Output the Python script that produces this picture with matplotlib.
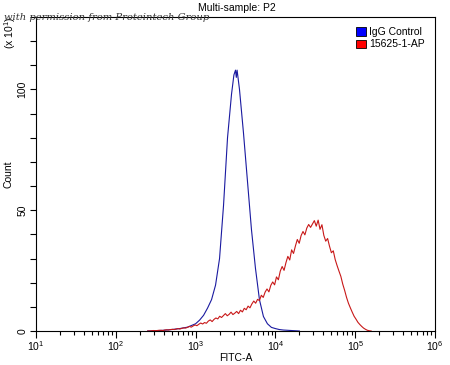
import matplotlib
matplotlib.use('Agg')
import matplotlib.pyplot as plt
import numpy as np
from matplotlib.ticker import LogLocator, MultipleLocator, FixedLocator

plt.rcParams['font.family'] = ['Liberation Sans', 'DejaVu Sans']
plt.rcParams['mathtext.default'] = 'regular'

# counts (x10), sampled along log10(FITC-A)
igg_log = [2.40, 2.50, 2.60, 2.70, 2.80, 2.90, 3.00, 3.05, 3.10, 3.15, 3.20,
           3.25, 3.30, 3.35, 3.40, 3.45, 3.48, 3.50, 3.51, 3.52, 3.55, 3.60,
           3.65, 3.70, 3.75, 3.80, 3.85, 3.90, 3.95, 4.00, 4.05, 4.10, 4.20,
           4.30]
igg_count = [0, 0.1, 0.3, 0.6, 1.0, 1.6, 3.0, 4.5, 6.5, 9.5, 13,
             19, 30, 52, 80, 98, 106, 108, 105, 108, 100, 82,
             62, 42, 26, 13, 6, 3, 1.5, 1.0, 0.6, 0.4, 0.2,
             0]

ab_count = [0, 0, 0.1, 0.2, 0.1, 0.2, 0.3, 0.3, 0.2, 0.4, 0.5, 0.4, 0.6, 0.7,
            0.6, 0.8, 1.0, 0.8, 1.1, 1.3, 1.2, 1.5, 1.9, 1.6, 2.1, 2.5, 2.2,
            2.8, 3.3, 2.9, 3.5, 3.2, 4.1, 4.6, 3.9, 4.8, 5.4, 5.0, 6.1, 5.6,
            6.4, 7.2, 6.3, 6.9, 7.8, 6.8, 7.4, 8.1, 7.2, 8.6, 7.9, 9.4, 8.8,
            10.3, 9.6, 11.2, 12.4, 11.5, 13.1, 12.6, 14.8, 13.9, 16.1, 17.4,
            16.2, 18.9, 20.3, 19.1, 22.4, 21.2, 24.8, 26.7, 25.1, 28.3, 30.9,
            29.4, 33.6, 32.1, 35.2, 37.9, 36.3, 39.5, 41.2, 39.8, 42.6, 44.1,
            42.9, 44.3, 45.7, 43.4, 45.9, 42.1, 44.0, 39.6, 37.2, 38.3, 35.1,
            32.4, 33.2, 29.6, 27.1, 24.8, 22.6, 19.4, 16.8, 13.9, 11.5, 9.6,
            7.8, 6.1, 4.9, 3.6, 2.7, 1.9, 1.2, 0.7, 0.3, 0.1, 0.0]
ab_log = np.linspace(2.4, 5.2, len(ab_count))

series = ['IgG Control', '15625-1-AP']

fig = plt.figure(figsize=(4.5, 3.65), dpi=100)
ax = fig.add_axes([36 / 450, 34 / 365, 399 / 450, 314 / 365])

ax.plot(10 ** np.array(igg_log), igg_count, color='#1a1aa0', lw=0.8)
ax.plot(10 ** ab_log, ab_count, color='#c81818', lw=0.8)

ax.set_xscale('log')
ax.set_xlim(10, 1e6)
ax.set_ylim(0, 130)
ax.xaxis.set_major_locator(LogLocator(base=10, numticks=10))
ax.xaxis.set_minor_locator(LogLocator(base=10, subs=np.arange(2, 10), numticks=20))
ax.yaxis.set_major_locator(FixedLocator([0, 50, 100]))
ax.yaxis.set_minor_locator(MultipleLocator(10))

ax.xaxis.set_major_formatter(matplotlib.ticker.LogFormatterMathtext())
ax.tick_params(axis='x', which='major', length=5, width=0.8, labelsize=7.5, pad=1)
ax.tick_params(axis='x', which='minor', length=3, width=0.8)
ax.tick_params(axis='y', which='both', length=4, width=0.8, labelsize=7.5, pad=2)
for lbl in ax.get_yticklabels():
    lbl.set_rotation(90)
    lbl.set_va('center')

for s in ax.spines.values():
    s.set_linewidth(0.8)

ax.set_xlabel('FITC-A', fontsize=7.5, labelpad=0)
ax.set_ylabel('Count', fontsize=7.5, labelpad=3)
fig.text(0.527, 0.977, 'Multi-sample: P2', fontsize=7.5, ha='center', va='center')
fig.text(0.022, 0.91, '(x 10$^1$)', fontsize=7.5, rotation=90,
         ha='center', va='center')
fig.text(0.01, 0.953, 'with permission from Proteintech Group', fontsize=7.2,
         family='DejaVu Serif', style='italic', color='#333333',
         ha='left', va='center')

handles = [plt.Rectangle((0, 0), 1, 1, fc='#0000ff', ec='black', lw=0.6),
           plt.Rectangle((0, 0), 1, 1, fc='#ff0000', ec='black', lw=0.6)]
ax.legend(handles, series, loc='upper right', frameon=False, fontsize=7.5,
          handlelength=0.9, handleheight=0.9, handletextpad=0.3,
          labelspacing=0.2, borderaxespad=0.6)

fig.savefig('out.png', dpi=100)
